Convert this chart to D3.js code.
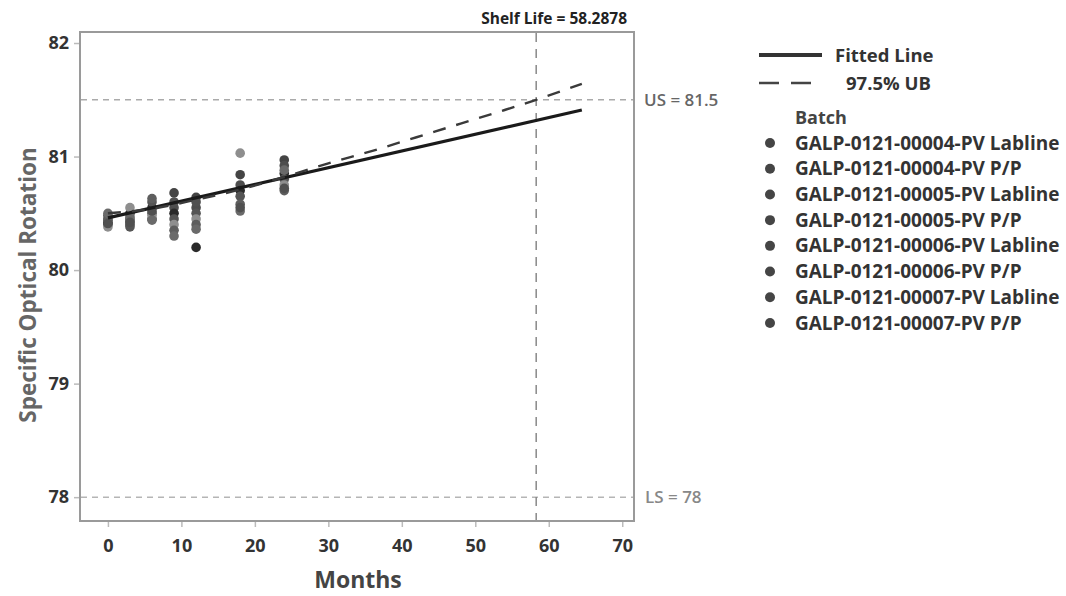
<!DOCTYPE html>
<html>
<head>
<meta charset="utf-8">
<script src="https://cdn.jsdelivr.net/npm/d3@7"></script>
<style>
  html, body { margin: 0; padding: 0; background: #fff; }
  svg { display: block; font-family: "Open Sans", "DejaVu Sans", sans-serif; }
</style>
</head>
<body>
<svg id="chart" width="1066" height="596"></svg>
<script>
// ---- data ----
const months = [0, 3, 6, 9, 12, 18, 24];
const batches = [
  "GALP-0121-00004-PV Labline",
  "GALP-0121-00004-PV P/P",
  "GALP-0121-00005-PV Labline",
  "GALP-0121-00005-PV P/P",
  "GALP-0121-00006-PV Labline",
  "GALP-0121-00006-PV P/P",
  "GALP-0121-00007-PV Labline",
  "GALP-0121-00007-PV P/P"
];
const batchValues = [
  [80.40, 80.40, 80.45, 80.68, 80.64, 80.84, 80.97],
  [80.45, 80.45, 80.50, 80.55, 80.55, 80.75, 80.92],
  [80.42, 80.50, 80.55, 80.50, 80.20, 80.70, 80.85],
  [80.48, 80.38, 80.60, 80.45, 80.50, 80.65, 80.80],
  [80.38, 80.55, 80.48, 80.40, 80.45, 81.03, 80.75],
  [80.44, 80.43, 80.63, 80.35, 80.40, 80.58, 80.70],
  [80.50, 80.47, 80.44, 80.30, 80.36, 80.52, 80.88],
  [80.41, 80.42, 80.52, 80.60, 80.60, 80.55, 80.72]
];
const batchColors = ["#444444", "#4d4d4d", "#2a2a2a", "#555555", "#8e8e8e", "#5e5e5e", "#6a6a6a", "#505050"];
const fitMonths = [0, 64.5];
const fitValues = [80.46, 81.41];
const ubMonths = [0, 6, 12, 18, 24, 30, 36, 42, 48, 54, 58.2878, 64.5];
const ubValues = [80.50, 80.54, 80.62, 80.71, 80.82, 80.94, 81.05, 81.17, 81.29, 81.41, 81.5, 81.64];
const xTicks = [0, 10, 20, 30, 40, 50, 60, 70];
const yTicks = [78, 79, 80, 81, 82];
const upperSpec = 81.5, lowerSpec = 78, shelfLife = 58.2878;

// ---- scales ----
const svg = d3.select("#chart");
const x = d3.scaleLinear().domain([-3.8, 71.6]).range([80, 634]);
const y = d3.scaleLinear().domain([77.79, 82.097]).range([521, 32]);

// axes
const xAxis = svg.append("g").attr("transform", "translate(0,521)")
  .call(d3.axisBottom(x).tickValues(xTicks).tickSize(6).tickPadding(12).tickFormat(d3.format("d")));
const yAxis = svg.append("g").attr("transform", "translate(80,0)")
  .call(d3.axisLeft(y).tickValues(yTicks).tickSize(6).tickPadding(5).tickFormat(d3.format("d")));
[xAxis, yAxis].forEach(a => {
  a.select(".domain").remove();
  a.selectAll(".tick line").attr("stroke", "#bbb").attr("stroke-width", 1.5);
  a.selectAll(".tick text").attr("fill", "#333").attr("font-size", 18).attr("font-weight", 700)
    .attr("font-family", "'Open Sans', sans-serif");
});

// frame
svg.append("rect").attr("x", 80).attr("y", 32).attr("width", 554).attr("height", 489)
  .attr("fill", "none").attr("stroke", "#9a9a9a").attr("stroke-width", 2);

// reference lines
svg.append("line").attr("x1", 81).attr("x2", 633).attr("y1", y(upperSpec)).attr("y2", y(upperSpec))
  .attr("stroke", "#aaa").attr("stroke-width", 1.5).attr("stroke-dasharray", "6,5");
svg.append("line").attr("x1", 81).attr("x2", 633).attr("y1", y(lowerSpec)).attr("y2", y(lowerSpec))
  .attr("stroke", "#b5b5b5").attr("stroke-width", 1.5).attr("stroke-dasharray", "6,5");
svg.append("line").attr("x1", x(shelfLife)).attr("x2", x(shelfLife)).attr("y1", 33).attr("y2", 520)
  .attr("stroke", "#888").attr("stroke-width", 1.5).attr("stroke-dasharray", "9,7");

// points
batches.forEach((b, i) => {
  svg.append("g").selectAll("circle").data(months.map((m, j) => ({m, v: batchValues[i][j]})))
    .join("circle")
    .attr("cx", d => x(d.m)).attr("cy", d => y(d.v)).attr("r", 4.8)
    .attr("fill", batchColors[i]);
});

// fitted line
const line = d3.line().x(d => x(d[0])).y(d => y(d[1]));
svg.append("path").datum(fitMonths.map((m, i) => [m, fitValues[i]]))
  .attr("d", line).attr("fill", "none").attr("stroke", "#1a1a1a").attr("stroke-width", 3.2);
// UB
svg.append("path").datum(ubMonths.map((m, i) => [m, ubValues[i]]))
  .attr("d", d3.line().curve(d3.curveMonotoneX).x(d => x(d[0])).y(d => y(d[1])))
  .attr("fill", "none").attr("stroke", "#3a3a3a").attr("stroke-width", 2.4).attr("stroke-dasharray", "13,11");

// annotations
svg.append("text").attr("x", 627).attr("y", 24).attr("text-anchor", "end")
  .attr("font-size", 15.5).attr("font-weight", 700).attr("fill", "#222").text("Shelf Life = " + shelfLife);
svg.append("text").attr("x", 644).attr("y", y(upperSpec) + 6).attr("font-size", 17).attr("font-weight", 600)
  .attr("fill", "#666").text("US = " + upperSpec);
svg.append("text").attr("x", 645).attr("y", y(lowerSpec) + 6).attr("font-size", 17).attr("font-weight", 600)
  .attr("fill", "#888").text("LS = " + lowerSpec);

// axis titles
svg.append("text").attr("transform", "translate(36,285) rotate(-90)").attr("text-anchor", "middle")
  .attr("font-size", 22.5).attr("font-weight", 700).attr("fill", "#666").text("Specific Optical Rotation");
svg.append("text").attr("x", 358).attr("y", 588).attr("text-anchor", "middle")
  .attr("font-size", 23).attr("font-weight", 700).attr("fill", "#444").text("Months");

// legend
const lg = svg.append("g");
lg.append("line").attr("x1", 759).attr("x2", 822).attr("y1", 55).attr("y2", 55)
  .attr("stroke", "#333").attr("stroke-width", 4);
lg.append("text").attr("x", 835).attr("y", 62).attr("font-size", 18.5).attr("font-weight", 700)
  .attr("fill", "#333").text("Fitted Line");
lg.append("line").attr("x1", 759).attr("x2", 813).attr("y1", 83).attr("y2", 83)
  .attr("stroke", "#444").attr("stroke-width", 2.5).attr("stroke-dasharray", "20,12");
lg.append("text").attr("x", 846).attr("y", 90).attr("font-size", 18.5).attr("font-weight", 700)
  .attr("fill", "#333").text("97.5% UB");
lg.append("text").attr("x", 795).attr("y", 124).attr("font-size", 18).attr("font-weight", 700)
  .attr("fill", "#444").text("Batch");
const legendY = d3.scalePoint().domain(batches).range([143, 323]);
batches.forEach((b, i) => {
  lg.append("circle").attr("cx", 770).attr("cy", legendY(b)).attr("r", 5).attr("fill", "#454545");
  lg.append("text").attr("x", 795).attr("y", legendY(b) + 6.5).attr("font-size", 19).attr("font-weight", 700)
    .attr("fill", "#333").text(b);
});
</script>
</body>
</html>
